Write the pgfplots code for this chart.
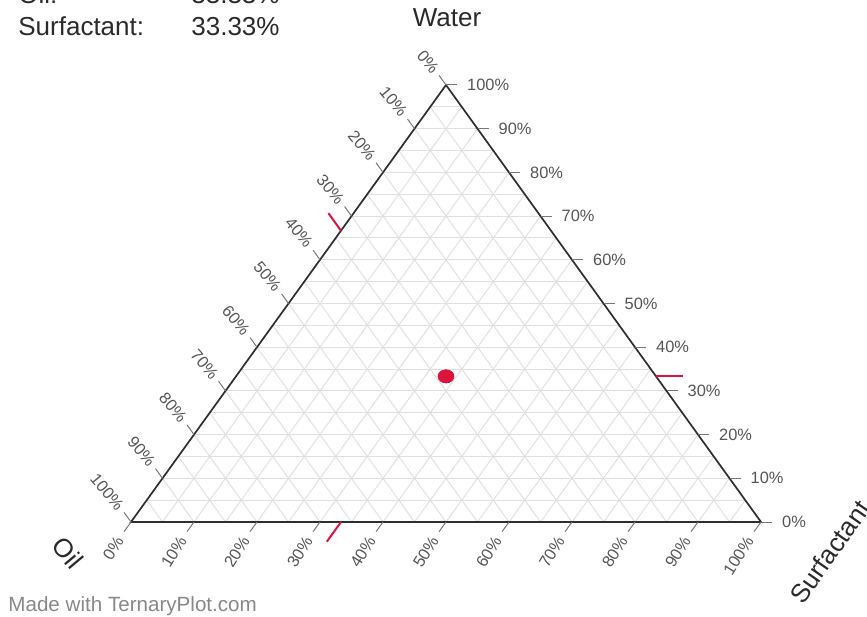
\documentclass[border=0pt]{standalone}
\usepackage{pgfplots}
\pgfplotsset{compat=1.18}
\usepackage{fontspec}
\setmainfont{Liberation Sans}
\definecolor{crim}{HTML}{DC143C}
\definecolor{gridc}{HTML}{E0E0E0}
\definecolor{edgec}{HTML}{2E2E2E}
\definecolor{tickc}{HTML}{777777}
\definecolor{labc}{HTML}{555555}
\definecolor{titc}{HTML}{2A2A2A}
\definecolor{markc}{HTML}{888888}
\begin{document}
\begin{tikzpicture}
\begin{axis}[width=433.5pt,height=308pt,scale only axis,hide axis,clip=false,
  xmin=-0.20794, xmax=1.16825, ymin=-0.21510, ymax=1.19451]
% 5% grid (cartesian x = surfactant + water/2, y = water)
\pgfplotsinvokeforeach{0.05,0.10,...,0.96}{
  \draw[gridc, line width=0.5pt] (axis cs:{#1/2},{#1}) -- (axis cs:{1-#1/2},{#1});
  \draw[gridc, line width=0.5pt] (axis cs:{#1},0) -- (axis cs:{(1+#1)/2},{1-#1});
  \draw[gridc, line width=0.5pt] (axis cs:{#1},0) -- (axis cs:{#1/2},{#1});
}
% triangle
\addplot[edgec, line width=0.85pt, line join=miter] coordinates {(0,0) (1,0) (0.5,1) (0,0) (1,0)};
% ticks and labels
\pgfplotsinvokeforeach{0,10,...,100}{
  % right: water
  \draw[tickc, line width=0.5pt] (axis cs:{1-#1/200},{#1/100}) -- (axis cs:{1-#1/200+0.0175},{#1/100});
  \node[labc, anchor=west, inner sep=0pt, font=\fontsize{8.2pt}{9pt}\selectfont] at (axis cs:{1-#1/200+0.033},{#1/100}) {#1\%};
  % bottom: surfactant
  \draw[tickc, line width=0.5pt] (axis cs:{#1/100},0) -- (axis cs:{#1/100-0.011},-0.022);
  \node[labc, anchor=east, inner sep=0pt, rotate=58, font=\fontsize{8.2pt}{9pt}\selectfont] at (axis cs:{#1/100-0.018},-0.036) {#1\%};
  % left: oil
  \draw[tickc, line width=0.5pt] (axis cs:{(1-#1/100)/2},{1-#1/100}) -- (axis cs:{(1-#1/100)/2-0.011},{1-#1/100+0.022});
  \node[labc, anchor=east, inner sep=0pt, rotate=-50, font=\fontsize{8.2pt}{9pt}\selectfont] at (axis cs:{(1-#1/100)/2-0.016},{1-#1/100+0.032}) {#1\%};
}
% red indicator ticks at 33.33%
\draw[crim, line width=1pt] (axis cs:{1-1/6},{1/3}) -- (axis cs:{1-1/6+0.043},{1/3});
\draw[crim, line width=1pt] (axis cs:{1/3},0) -- (axis cs:{1/3-0.0225},-0.045);
\draw[crim, line width=1pt] (axis cs:{1/3},{2/3}) -- (axis cs:{1/3-0.02},{2/3+0.04});
% data point (water 33.33, oil 33.33, surfactant 33.33)
\addplot[only marks, mark=*, mark size=3.3pt, color=crim, mark options={xscale=1.2}] coordinates {(0.5,0.3333)};
% titles
\node[titc, inner sep=0pt, font=\fontsize{13pt}{15pt}\selectfont] at (axis cs:0.5016,1.153) {Water};
\node[titc, inner sep=0pt, rotate=-50, font=\fontsize{13pt}{15pt}\selectfont] at (axis cs:-0.10,-0.0709) {Oil};
\node[titc, inner sep=0pt, rotate=55, font=\fontsize{13pt}{15pt}\selectfont] at (axis cs:1.1095,-0.0686) {Surfactant};
% info box
\node[titc, anchor=base west, inner sep=0pt, font=\fontsize{13pt}{15pt}\selectfont] at (axis cs:-0.1794,1.1876) {Oil:};
\node[titc, anchor=base west, inner sep=0pt, font=\fontsize{13pt}{15pt}\selectfont] at (axis cs:0.0952,1.1876) {33.33\%};
\node[titc, anchor=base west, inner sep=0pt, font=\fontsize{13pt}{15pt}\selectfont] at (axis cs:-0.1794,1.1144) {Surfactant:};
\node[titc, anchor=base west, inner sep=0pt, font=\fontsize{13pt}{15pt}\selectfont] at (axis cs:0.0952,1.1144) {33.33\%};
% watermark
\node[markc, anchor=base west, inner sep=0pt, font=\fontsize{10.3pt}{12pt}\selectfont] at (axis cs:-0.1952,-0.2037) {Made with TernaryPlot.com};
\coordinate (bbSW) at (rel axis cs:0,0);
\coordinate (bbNE) at (rel axis cs:1,1);
\end{axis}
\pgfresetboundingbox
\useasboundingbox (bbSW) rectangle (bbNE);
\end{tikzpicture}
\end{document}
